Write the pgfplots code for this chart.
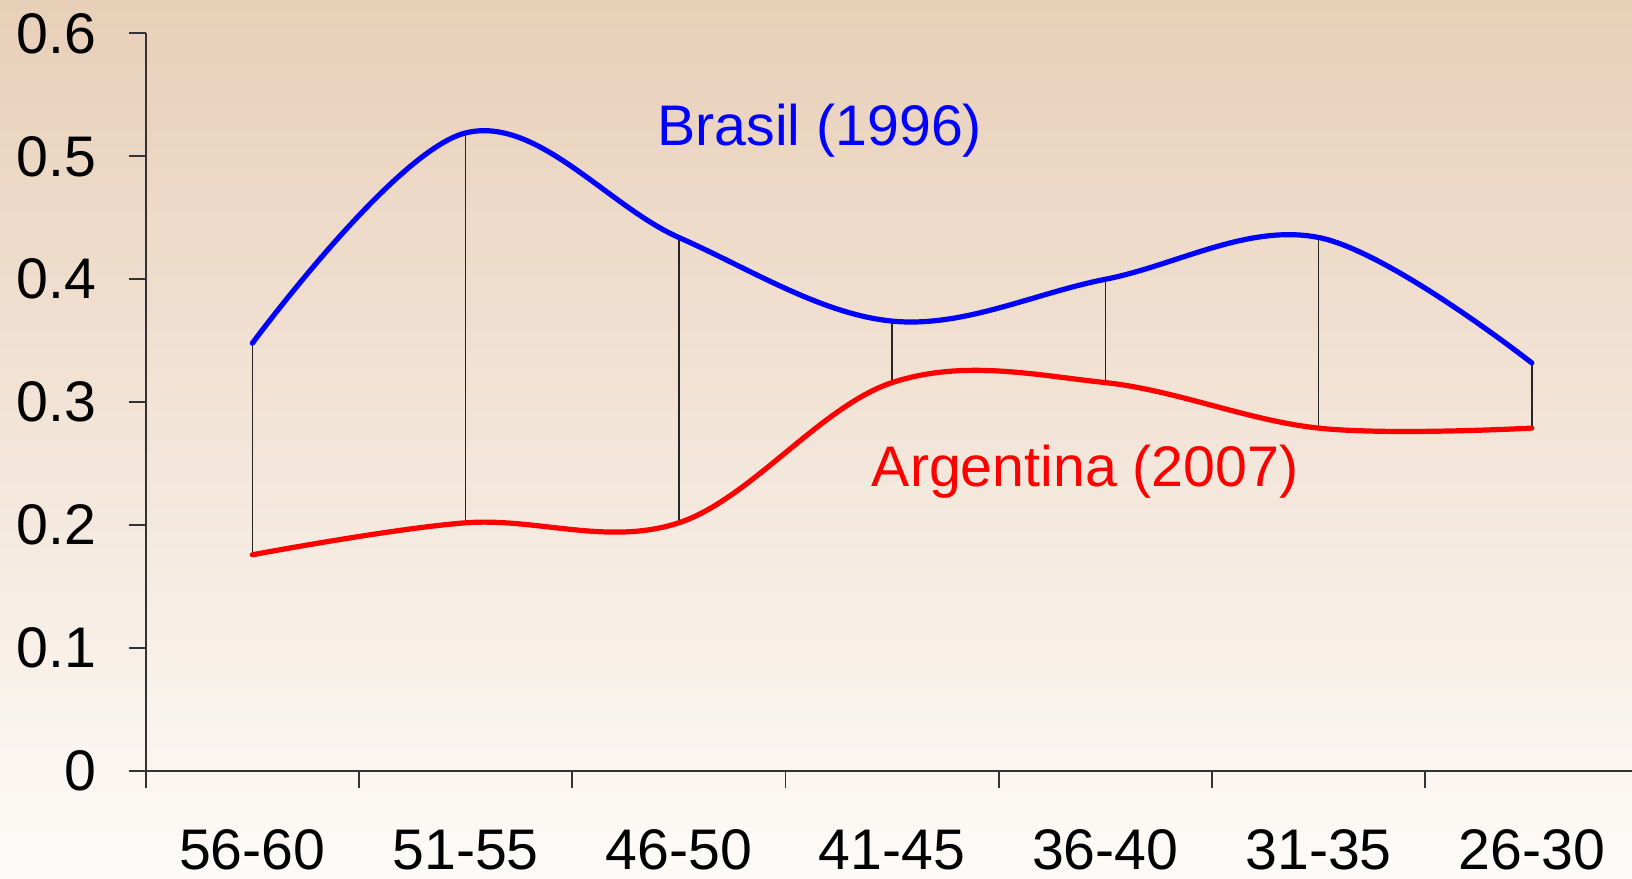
\documentclass[border=0pt]{standalone}
\usepackage{fontspec}
\setmainfont{Liberation Sans}
\usepackage{pgfplots}
\pgfplotsset{compat=1.18}
\usetikzlibrary{calc}
\pgfdeclarelayer{background}
\pgfsetlayers{background,main}
\definecolor{bgtop}{RGB}{232,207,184}
\definecolor{bgbot}{RGB}{253,251,249}
\newcommand\chartfont{\fontsize{13.75}{16}\selectfont}
\begin{document}
\begin{tikzpicture}
\begin{axis}[
  scale only axis, width=357pt, height=177.25pt,
  xmin=-0.5, xmax=6.47, ymin=0, ymax=0.6,
  axis lines=left, axis line style={-, black!80, line width=0.4pt},
  tick align=outside,
  xtick={0,1,2,3,4,5,6},
  xticklabels={56-60,51-55,46-50,41-45,36-40,31-35,26-30},
  minor xtick={-0.5,0.5,1.5,2.5,3.5,4.5,5.5},
  major x tick style={draw=none},
  minor tick length=4pt, major tick length=4pt,
  tick style={black!80, line width=0.4pt},
  ytick={0,0.1,0.2,0.3,0.4,0.5,0.6},
  /pgf/number format/fixed,
  /pgf/number format/precision=1,
  /pgf/number format/assume math mode=true,
  every tick label/.append style={font=\chartfont, text=black, inner sep=0pt},
  xticklabel style={anchor=north, yshift=-9.9pt},
  yticklabel style={anchor=east, xshift=-7.75pt},
  clip=false,
]
% drop lines between the two series
\addplot[black!85, line width=0.35pt, unbounded coords=jump] coordinates {
  (0,0.176) (0,0.348) (0,nan)
  (1,0.202) (1,0.519) (1,nan)
  (2,0.202) (2,0.434) (2,nan)
  (3,0.316) (3,0.366) (3,nan)
  (4,0.316) (4,0.400) (4,nan)
  (5,0.279) (5,0.434) (5,nan)
  (6,0.279) (6,0.332)
};
% Brasil (1996)
\addplot[blue, line width=1.25pt, smooth, tension=0.6, line cap=round, line join=round] coordinates {
  (0,0.348) (1,0.519) (2,0.434) (3,0.366) (4,0.400) (5,0.434) (6,0.332)
};
% Argentina (2007)
\addplot[red, line width=1.25pt, smooth, tension=0.6, line cap=round, line join=round] coordinates {
  (0,0.176) (1,0.202) (2,0.202) (3,0.316) (4,0.316) (5,0.279) (6,0.279)
};
\node[anchor=base, text=blue, font=\chartfont, inner sep=0pt] at (axis cs:2.661,0.5086) {Brasil (1996)};
\node[anchor=base, text=red, font=\chartfont, inner sep=0pt] at (axis cs:3.905,0.2319) {Argentina (2007)};
\end{axis}
\coordinate (BL) at ($(current axis.south west)+(-35pt,-25.75pt)$);
\coordinate (TR) at ($(current axis.north east)+(0pt,8pt)$);
\begin{pgfonlayer}{background}
\shade[top color=bgtop, bottom color=bgbot] (BL) rectangle (TR);
\end{pgfonlayer}
\pgfresetboundingbox
\path[use as bounding box] (BL) rectangle (TR);
\end{tikzpicture}
\end{document}
